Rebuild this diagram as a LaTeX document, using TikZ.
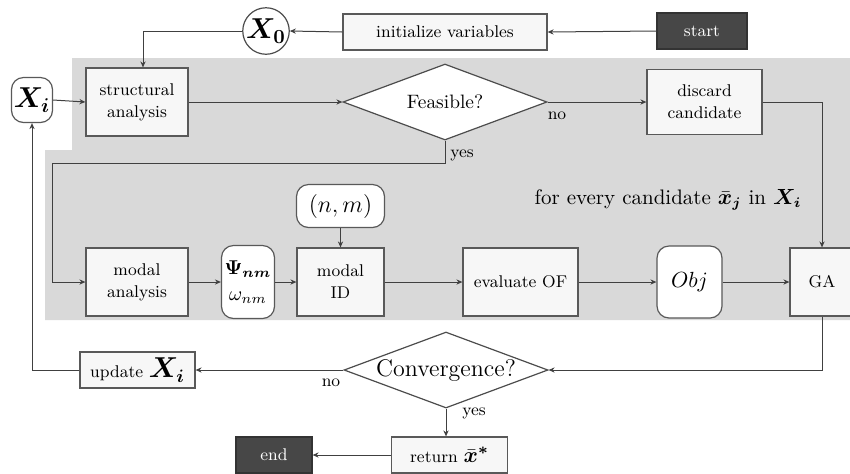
\documentclass[tikz,border=0pt]{standalone}
\usepackage{amsmath}
\usepackage{bm}
\usepackage{fontspec}
\usetikzlibrary{shapes.geometric,arrows.meta,calc}

\begin{document}
\begin{tikzpicture}[x=0.5pt,y=-0.5pt,
  line/.style={draw=black!75,line width=0.5pt},
  arr/.style={line,-{Stealth[length=3pt,width=2.6pt]}},
  box/.style={draw=black!65,fill=black!3,line width=0.6pt,align=center,
    inner sep=1pt,font=\fontsize{8.5}{11}\selectfont},
  rbox/.style={box,fill=white,rounded corners=6pt},
  darkbox/.style={draw=black!80,fill=black!72,text=white!85,line width=0.6pt,
    inner sep=1pt,font=\fontsize{8.5}{11}\selectfont},
  circ/.style={circle,draw=black!70,fill=white,line width=0.6pt,inner sep=0pt,
    minimum size=22pt},
  decision/.style={diamond,draw=black!70,fill=white,line width=0.6pt,aspect=2.68,
    inner sep=0pt,minimum width=102pt,minimum height=38pt},
  lbl/.style={inner sep=1pt,font=\fontsize{8.5}{11}\selectfont},
  bigmath/.style={font=\fontsize{14.5}{16}\selectfont}
]
\useasboundingbox (0,0) rectangle (850,473);

% shaded area of the inner loop
\fill[black!15] (72,58) -- (850,58) -- (850,320) -- (45,320) -- (45,150) -- (72,150) -- cycle;

% nodes
\node[darkbox,minimum width=45pt,minimum height=18pt] (start) at (702,31) {start};
\node[box,minimum width=102pt,minimum height=18pt] (init) at (445,32) {initialize variables};
\node[circ,bigmath] (x0) at (266,31) {$\bm{X_0}$};
\node[rbox,bigmath,minimum width=20.5pt,minimum height=22.5pt] (xi) at (32,100) {$\bm{X_i}$};
\node[box,minimum width=51pt,minimum height=34pt] (struct) at (137,102) {structural\\analysis};
\node[decision,font=\fontsize{9.7}{12}\selectfont] (feas) at (445,102) {Feasible?};
\node[box,minimum width=57.5pt,minimum height=32.5pt] (disc) at (704.5,102) {discard\\candidate};

\node[box,minimum width=51pt,minimum height=34pt] (modal) at (137,282) {modal\\analysis};
\node[rbox,minimum width=26.5pt,minimum height=36.5pt,font=\fontsize{10}{13}\selectfont] (psi) at (248,282)
  {$\bm{\Psi_{nm}}$\\$\omega_{nm}$};
\node[box,minimum width=43.5pt,minimum height=34pt] (mid) at (340.5,282) {modal\\ID};
\node[rbox,minimum width=44pt,minimum height=21.5pt,font=\fontsize{12}{14}\selectfont] (nm) at (340.5,206) {$(n,m)$};
\node[box,minimum width=57.5pt,minimum height=34pt] (eval) at (520.5,282) {evaluate OF};
\node[rbox,minimum width=32.5pt,minimum height=36pt,font=\fontsize{11}{13}\selectfont] (obj) at (689.5,282) {$Obj$};
\node[box,minimum width=32pt,minimum height=34pt] (ga) at (822,282) {GA};
\node[font=\fontsize{10.5}{13}\selectfont] (loop) at (668,200)
  {for every candidate $\bar{\bm{x}}_{\bm{j}}$ in $\bm{X_i}$};

\node[decision,font=\fontsize{12}{14}\selectfont] (conv) at (446,370) {Convergence?};
\node[box,minimum width=57.5pt,minimum height=18pt] (upd) at (137.5,370)
  {update {\fontsize{13.5}{15}\selectfont$\bm{X_i}$}};
\node[box,minimum width=58pt,minimum height=18pt] (ret) at (449.5,455)
  {return {\fontsize{11}{13}\selectfont$\bar{\bm{x}}^{\bm{*}}$}};
\node[darkbox,minimum width=38pt,minimum height=18pt] (end) at (274,455) {end};

% branch labels
\node[lbl] (feasno) at (557,116) {no};
\node[lbl] (feasyes) at (462,155) {yes};
\node[lbl] (convno) at (331,383) {no};
\node[lbl] (convyes) at (474,413) {yes};

\coordinate (yesleft) at (52,163);

% connectors
\draw[arr] (start.west) -- (init.east);
\draw[arr] (init.west) -- (x0.east);
\draw[arr] (x0.west) -| ([xshift=3pt]struct.north);
\draw[arr] (xi.east) -- (struct.west);
\draw[arr] (struct.east) -- (feas.west);
\draw[arr] (feas.east) -- (disc.west);
\draw[arr] (disc.east) -| (ga.north);
\draw[arr] (feas.south) |- (yesleft) |- (modal.west);
\draw[arr] (modal.east) -- (psi.west);
\draw[arr] (psi.east) -- (mid.west);
\draw[arr] (nm.south) -- (mid.north);
\draw[arr] (mid.east) -- (eval.west);
\draw[arr] (eval.east) -- (obj.west);
\draw[arr] (obj.east) -- (ga.west);
\draw[arr] (ga.south) |- (conv.east);
\draw[arr] (conv.west) -- (upd.east);
\draw[arr] (upd.west) -| (xi.south);
\draw[arr] (conv.south) -- (conv.south |- ret.north);
\draw[arr] (ret.west) -- (end.east);
\end{tikzpicture}
\end{document}
